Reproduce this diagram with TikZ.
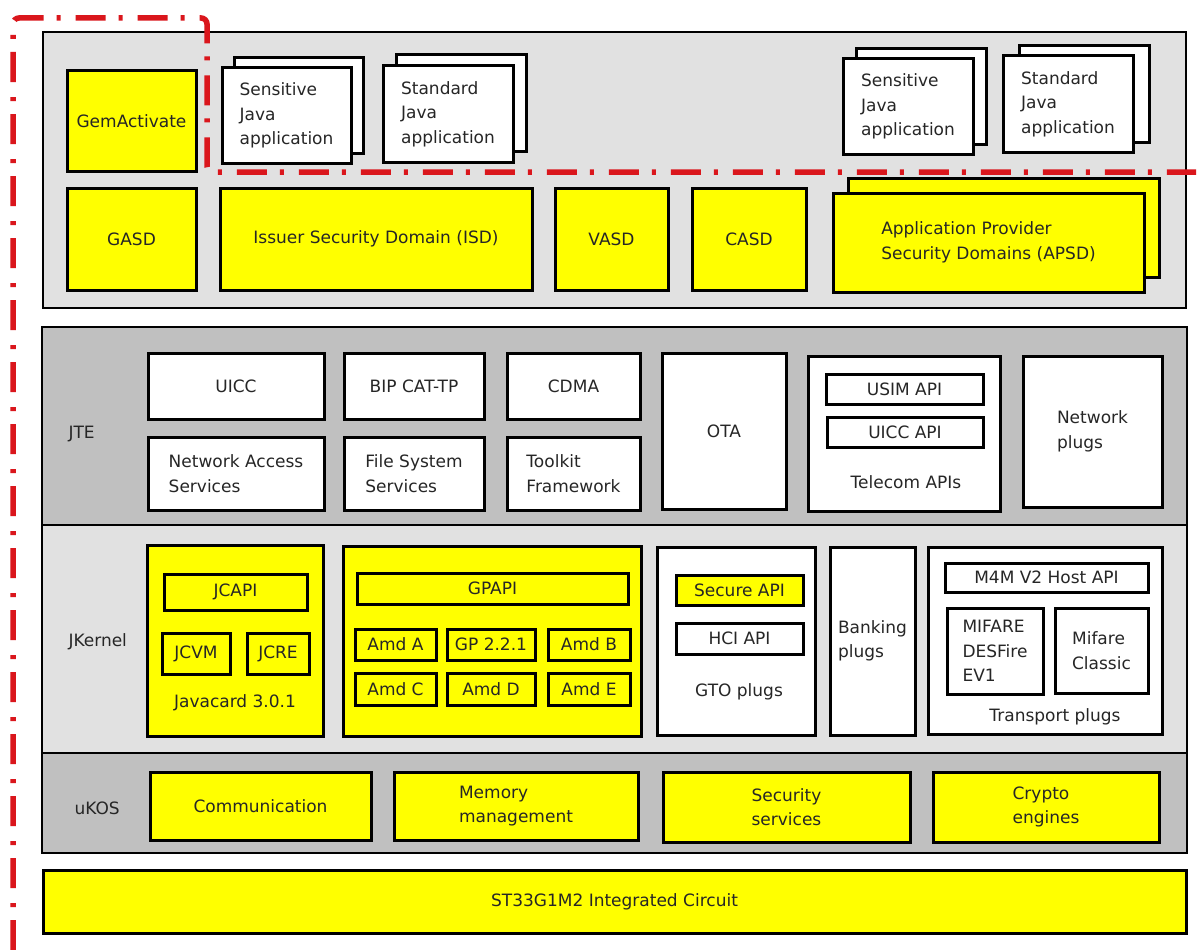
\documentclass[tikz,border=0pt]{standalone}
\usepackage{fontspec}
\setmainfont{DejaVu Sans}
\usetikzlibrary{shadows}

\definecolor{chipyellow}{RGB}{255,255,0}
\definecolor{panellight}{RGB}{225,225,225}
\definecolor{paneldark}{RGB}{192,192,192}
\definecolor{boundred}{RGB}{218,22,28}

\begin{document}
\begin{tikzpicture}[
    x=1pt, y=-1pt,
    font=\fontsize{17}{24.5}\selectfont,
    text=black!85,
    sz/.style 2 args={minimum width=#1, minimum height=#2},
    panel_light/.style={draw, line width=2.8pt, fill=panellight, inner sep=0pt},
    panel_dark/.style={draw, line width=2.8pt, fill=paneldark, inner sep=0pt},
    ybox/.style={draw, line width=3pt, fill=chipyellow, align=left, inner sep=3pt},
    wbox/.style={draw, line width=3pt, fill=white, align=left, inner sep=3pt},
    stack/.style 2 args={copy shadow={shadow xshift=#1pt, shadow yshift=#2pt}},
    layer_text/.style={anchor=west},
    bound_line/.style={draw=boundred, line width=5.5pt, dash pattern=on 30pt off 13pt on 4pt off 15pt, rounded corners=6pt}
]

    \path[fill=white, use as bounding box] (0,0) rectangle (1202,950);

    % Applications and security domains
    \node[panel_light, sz={1143}{276}] (app_layer) at (614.5,170) {};
    \node[ybox, sz={129}{100}] (gemactivate) at (131.5,121) {GemActivate};
    \node[wbox, sz={129}{95}, stack={12}{10}] (sens_app_a) at (286.5,115.5) {Sensitive\\Java\\application};
    \node[wbox, sz={130}{96}, stack={13}{11}] (std_app_a) at (448,114) {Standard\\Java\\application};
    \node[wbox, sz={130}{95}, stack={13}{10}] (sens_app_b) at (908,106.5) {Sensitive\\Java\\application};
    \node[wbox, sz={130}{96}, stack={16}{10}] (std_app_b) at (1068,104) {Standard\\Java\\application};

    \node[ybox, sz={129}{102}] (gasd) at (131.5,239) {GASD};
    \node[ybox, sz={312}{102}] (isd) at (376,239) {Issuer Security Domain (ISD)};
    \node[ybox, sz={113}{102}] (vasd) at (611.5,239) {VASD};
    \node[ybox, sz={114}{102}] (casd) at (749,239) {CASD};
    \node[ybox, sz={311}{99}, stack={15.5}{14.5}] (apsd) at (988.5,242.5) {Application Provider\\Security Domains (APSD)};

    % JTE layer
    \node[panel_dark, sz={1145}{198}] (jte_layer) at (614.5,426) {};
    \node[layer_text] (jte_lbl) at (65,434) {JTE};
    \node[wbox, sz={176}{66}] (uicc) at (236,386) {UICC};
    \node[wbox, sz={140}{66}] (bip) at (414,386) {BIP CAT-TP};
    \node[wbox, sz={133}{66}] (cdma) at (573.5,386) {CDMA};
    \node[wbox, sz={176}{73}] (net_access) at (236,473.5) {Network Access\\Services};
    \node[wbox, sz={140}{73}] (file_sys) at (414,473.5) {File System\\Services};
    \node[wbox, sz={133}{73}] (toolkit) at (573.5,473.5) {Toolkit\\Framework};
    \node[wbox, sz={124}{156}] (ota) at (724,431) {OTA};
    \node[wbox, sz={192}{155}] (telecom) at (904,433.5) {};
    \node[wbox, sz={157}{30}] (usim_api) at (904.5,389) {USIM API};
    \node[wbox, sz={156}{30}] (uicc_api) at (905,432) {UICC API};
    \node (telecom_lbl) at (906,482) {Telecom APIs};
    \node[wbox, sz={139}{151}] (net_plugs) at (1092.5,431.5) {Network\\plugs};

    % JKernel layer
    \node[panel_light, sz={1145}{228}] (jk_layer) at (614.5,639) {};
    \node[layer_text] (jk_lbl) at (65,642) {JKernel};
    \node[ybox, sz={176}{191}] (javacard) at (235,640.5) {};
    \node[ybox, sz={143}{36}] (jcapi) at (235.5,592) {JCAPI};
    \node[ybox, sz={68}{41}] (jcvm) at (196,653.5) {JCVM};
    \node[ybox, sz={62}{41}] (jcre) at (278,653.5) {JCRE};
    \node (javacard_lbl) at (235,703) {Javacard 3.0.1};

    \node[ybox, sz={298}{190}] (gp_block) at (492,641) {};
    \node[ybox, sz={271}{31}] (gpapi) at (492.5,588.5) {GPAPI};
    \node[ybox, sz={81}{31}] (amd_a) at (395.5,644.5) {Amd A};
    \node[ybox, sz={88}{31}] (gp_221) at (491,644.5) {GP 2.2.1};
    \node[ybox, sz={82}{31}] (amd_b) at (589,644.5) {Amd B};
    \node[ybox, sz={81}{32}] (amd_c) at (395.5,689) {Amd C};
    \node[ybox, sz={88}{32}] (amd_d) at (491,689) {Amd D};
    \node[ybox, sz={82}{32}] (amd_e) at (589,689) {Amd E};

    \node[wbox, sz={158}{188}] (gto) at (736,641) {};
    \node[ybox, sz={127}{30}] (secure_api) at (739.5,590) {Secure API};
    \node[wbox, sz={127}{31}] (hci_api) at (739.5,638.5) {HCI API};
    \node (gto_lbl) at (739,692) {GTO plugs};

    \node[wbox, sz={85}{188}] (banking) at (872.5,641) {Banking\\plugs};
    \node[wbox, sz={234}{187}] (transport) at (1045,640.5) {};
    \node[wbox, sz={203}{29}] (m4m_api) at (1046.5,577.5) {M4M V2 Host API};
    \node[wbox, sz={96}{86}] (desfire) at (995,651) {MIFARE\\DESFire\\EV1};
    \node[wbox, sz={93}{85}] (classic) at (1101.5,650.5) {Mifare\\Classic};
    \node (transport_lbl) at (1055,717) {Transport plugs};

    % uKOS layer
    \node[panel_dark, sz={1145}{100}] (ukos_layer) at (614.5,803) {};
    \node[layer_text] (ukos_lbl) at (71,808) {uKOS};
    \node[ybox, sz={221}{68}] (comm) at (260.5,806) {Communication};
    \node[ybox, sz={244}{68}] (memory) at (516,806) {Memory\\management};
    \node[ybox, sz={247}{70}] (security) at (786.5,807) {Security\\services};
    \node[ybox, sz={226}{70}] (crypto) at (1046,807) {Crypto\\engines};

    % Chip
    \node[ybox, sz={1143}{63}] (chip) at (614.5,901.5) {ST33G1M2 Integrated Circuit};

    % Boundary
    \coordinate (bnd_start) at (13,950);
    \coordinate (bnd_corner) at (13,18);
    \coordinate (bnd_top) at (207,18);
    \coordinate (bnd_knee) at (207,172);
    \coordinate (bnd_end) at (1196,172);
    \draw[bound_line] (bnd_start) -- (bnd_corner) -- (bnd_top) -- (bnd_knee) -- (bnd_end);

\end{tikzpicture}
\end{document}
